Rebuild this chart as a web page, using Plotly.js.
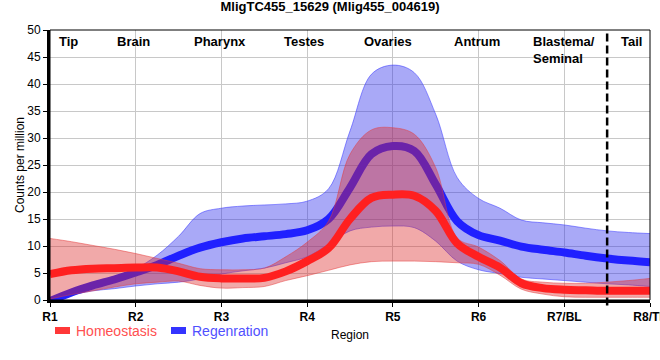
<!DOCTYPE html>
<html>
<head>
<meta charset="utf-8">
<script src="https://cdn.plot.ly/plotly-3.0.1.min.js"></script>
<style>html,body{margin:0;padding:0;background:#fff;}#chart{width:660px;height:360px;}</style>
</head>
<body>
<div id="chart"></div>
<script>
// Region axis (numeric positions 1..8 with labels)
const regionTickVals = [1, 2, 3, 4, 5, 6, 7, 8];
const regionTickText = ["R1", "R2", "R3", "R4", "R5", "R6", "R7/BL", "R8/TL"];

// Tissue labels shown along the top of the plot
const tissueNames = ["Tip", "Brain", "Pharynx", "Testes", "Ovaries", "Antrum", "Blastema/<br>Seminal", "Tail"];
const tissueX = [1.21, 1.97, 2.98, 3.96, 4.94, 5.98, 7.0, 7.78];
const tailBoundary = 7.5;

// Sampled positions along the body axis
const xPos = [1, 1.25, 1.5, 1.75, 2, 2.25, 2.5, 2.75, 3, 3.25, 3.5, 3.75, 4, 4.25, 4.5, 4.75,
              5, 5.25, 5.5, 5.75, 6, 6.25, 6.5, 6.75, 7, 7.25, 7.5, 7.75, 8];

// Homeostasis: mean and band
const homeoMean  = [4.8, 5.5, 5.8, 5.9, 6.0, 6.0, 5.3, 4.3, 4.0, 4.0, 4.1, 5.3, 7.2, 9.6, 15.0, 18.9,
                    19.5, 19.3, 16.5, 10.5, 8.0, 6.0, 3.1, 2.2, 1.9, 1.8, 1.7, 1.7, 1.7];
const homeoUpper = [11.4, 10.8, 10.1, 9.4, 8.6, 7.7, 6.8, 5.8, 5.6, 5.6, 5.9, 8.0, 10.7, 14.6, 27.0, 31.5,
                    31.9, 30.7, 24.5, 11.5, 9.8, 7.3, 3.9, 3.3, 3.1, 3.1, 3.3, 3.6, 4.0];
const homeoLower = [0.2, 1.0, 1.7, 2.4, 3.0, 3.3, 3.5, 2.7, 2.2, 2.3, 2.5, 3.6, 4.5, 5.5, 6.5, 7.1,
                    7.2, 7.2, 7.1, 6.9, 6.6, 4.6, 2.0, 1.1, 0.6, 0.5, 0.5, 0.5, 0.5];

// Regeneration: mean and band
const regenMean  = [-0.2, 1.4, 2.7, 3.8, 5.1, 6.5, 8.2, 9.7, 10.7, 11.4, 11.8, 12.2, 12.9, 15.0, 20.8, 27.0,
                    28.5, 27.6, 21.4, 14.6, 12.0, 11.0, 9.9, 9.3, 8.8, 8.2, 7.7, 7.3, 7.0];
const regenUpper = [0.2, 1.6, 3.0, 4.3, 5.8, 8.3, 11.8, 16.0, 17.0, 17.4, 17.6, 17.8, 18.3, 20.6, 31.3, 41.8,
                    43.5, 42.1, 34.4, 22.7, 18.8, 17.0, 14.8, 14.3, 13.9, 13.3, 12.8, 12.5, 12.3];
const regenLower = [-0.2, 0.9, 1.7, 2.1, 2.6, 3.0, 3.3, 3.9, 4.8, 5.4, 5.9, 6.9, 8.0, 10.3, 12.8, 13.5,
                    13.7, 13.4, 10.9, 7.2, 5.6, 4.9, 4.2, 3.9, 3.6, 3.3, 3.0, 2.8, 2.5];

const seriesNames = ["Homeostasis", "Regenration"];

const FONT = "Liberation Sans, Arial, sans-serif";
const RED = "rgb(255,32,32)";
const BLUE = "rgb(32,32,255)";
const RED_FILL = "rgba(220,40,40,0.4)";
const BLUE_FILL = "rgba(40,40,235,0.4)";

function band(lower, upper, fill, edge) {
  return [
    {x: xPos, y: lower, type: "scatter", mode: "lines", showlegend: false, hoverinfo: "skip",
     line: {color: edge, width: 1, shape: "spline", smoothing: 1}},
    {x: xPos, y: upper, type: "scatter", mode: "lines", showlegend: false, hoverinfo: "skip",
     fill: "tonexty", fillcolor: fill,
     line: {color: edge, width: 1, shape: "spline", smoothing: 1}}
  ];
}
function meanLine(y, color, name) {
  return {x: xPos, y: y, type: "scatter", mode: "lines", name: name, showlegend: false,
          line: {color: color, width: 8, shape: "spline", smoothing: 1}};
}

const data = [
  ...band(regenLower, regenUpper, BLUE_FILL, "rgba(60,60,255,0.55)"),
  meanLine(regenMean, BLUE, seriesNames[1]),
  ...band(homeoLower, homeoUpper, RED_FILL, "rgba(230,60,60,0.5)"),
  meanLine(homeoMean, RED, seriesNames[0])
];

const annotations = tissueNames.map((t, i) => ({
  x: tissueX[i], xref: "x", y: 1, yref: "paper", yanchor: "top", yshift: -2,
  text: "<b>" + t + "</b>", showarrow: false, align: "left",
  font: {family: FONT, size: 13, color: "#000"}
}));

// Custom legend entries
const legendItems = [
  {x0: 0.0083, x1: 0.0333, tx: 0.040, color: "#ff3838", textColor: "#ff4f4f", name: seriesNames[0]},
  {x0: 0.2017, x1: 0.2267, tx: 0.2333, color: "#3434ff", textColor: "#5050ff", name: seriesNames[1]}
];
legendItems.forEach(l => annotations.push({
  x: l.tx, xref: "paper", xanchor: "left", y: -0.113, yref: "paper", yanchor: "middle",
  text: l.name, showarrow: false, font: {family: FONT, size: 14, color: l.textColor}
}));

const shapes = [
  {type: "rect", xref: "paper", yref: "paper", x0: 0, x1: 1, y0: 0, y1: 1,
   line: {color: "#000", width: 1}, layer: "above"},
  {type: "line", xref: "x", yref: "paper", x0: tailBoundary, x1: tailBoundary, y0: -0.02, y1: 1,
   line: {color: "#000", width: 2.5, dash: "8px,4px"}, layer: "above"}
];
legendItems.forEach(l => shapes.push({
  type: "rect", xref: "paper", yref: "paper", x0: l.x0, x1: l.x1, y0: -0.1, y1: -0.126,
  fillcolor: l.color, line: {width: 0}
}));

const layout = {
  width: 660, height: 360,
  margin: {l: 50, r: 10, t: 30, b: 60},
  paper_bgcolor: "#fff", plot_bgcolor: "#fff",
  showlegend: false,
  title: {text: "<b>MligTC455_15629 (Mlig455_004619)</b>", x: 0.5, xanchor: "center",
          y: 1, yref: "container", yanchor: "top", pad: {t: 2},
          font: {family: FONT, size: 13, color: "#000"}},
  font: {family: FONT, size: 12, color: "#000"},
  xaxis: {
    range: [1, 8], tickvals: regionTickVals, ticktext: regionTickText.map(t => "<b>" + t + "</b>"),
    ticklabeloverflow: "allow",
    showgrid: true, gridcolor: "#c8c8c8", gridwidth: 1, zeroline: false,
    showline: true, linecolor: "#000", linewidth: 3,
    ticks: "outside", ticklen: 4, tickcolor: "#000",
    tickfont: {family: FONT, size: 12, color: "#000"},
    title: {text: "Region", font: {family: FONT, size: 12, color: "#000"}, standoff: 8},
    automargin: false, fixedrange: true
  },
  yaxis: {
    range: [0, 50], dtick: 5, tick0: 0,
    showgrid: true, gridcolor: "#c8c8c8", gridwidth: 1, zeroline: false,
    showline: true, linecolor: "#000", linewidth: 3,
    ticks: "outside", ticklen: 4, tickcolor: "#000",
    tickfont: {family: FONT, size: 12, color: "#000"},
    title: {text: "Counts per million", font: {family: FONT, size: 12, color: "#000"}, standoff: 1},
    automargin: false, fixedrange: true
  },
  annotations: annotations,
  shapes: shapes
};

Plotly.newPlot("chart", data, layout, {staticPlot: true, displayModeBar: false});
</script>
</body>
</html>
